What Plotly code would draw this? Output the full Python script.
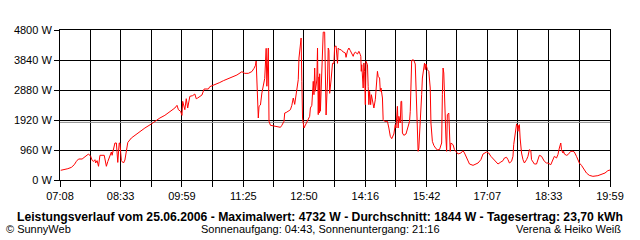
import plotly.graph_objects as go

# time of day in minutes since midnight, and power in W
t_min = [429, 435, 439, 444, 448, 451, 454, 459, 462, 465, 468, 471, 473, 475, 477, 478, 480, 482, 484, 490,
         491, 493, 495, 498, 500, 501, 503, 505, 507, 509, 511, 512, 514, 517, 519, 521, 522, 523, 528, 537,
         547, 556, 561, 568, 575, 582, 589, 592, 594, 597, 599, 600, 603, 605, 607, 610, 614, 617, 619, 621,
         627, 630, 636, 638, 643, 648, 652, 657, 666, 676, 683, 687, 692, 697, 700, 702, 703, 704, 705, 706,
         707, 709, 711, 713, 715, 717, 718, 720, 721, 723, 729, 733, 737, 739, 742, 743, 745, 749, 751, 753,
         755, 757, 759, 762, 763, 765, 766, 767, 768, 770, 772, 775, 778, 779, 781, 783, 784, 785, 786, 788,
         789, 790, 791, 791.5, 792, 793, 794, 796, 797, 799, 801, 803, 804, 805, 806, 808, 810, 812, 813, 815,
         817, 818, 820, 822, 825, 828, 829, 831, 833, 835, 837, 839, 840, 842, 845, 847, 849, 849.7, 850.3, 851,
         853, 854, 855, 856, 857, 859, 860, 861, 862, 863.5, 864.5, 867, 868, 870, 871, 873, 874, 876, 877, 878,
         880, 881, 883, 887, 889, 891, 893, 896, 898, 899, 901, 902, 903, 905, 906, 907, 908, 910, 913, 915,
         918, 919, 920, 921, 923, 924, 926, 927, 929, 930, 931, 933, 934, 935, 936, 937, 938, 939, 940, 941,
         943, 945, 947, 948, 950, 952, 955, 957, 960, 962, 963, 964, 965, 966, 967, 968, 969, 970, 971, 973,
         974, 975, 976, 979, 981, 983, 986, 990, 993, 995, 998, 1000, 1002, 1007, 1012, 1014, 1018, 1021, 1026, 1029,
         1032, 1035, 1040, 1042, 1046, 1049, 1051, 1054, 1056, 1058, 1061, 1063, 1064, 1066, 1068, 1069, 1070, 1071, 1072, 1073,
         1075, 1077, 1079, 1082, 1084, 1086, 1088, 1089, 1091, 1093, 1096, 1098, 1100, 1103, 1105, 1107, 1110, 1112, 1116, 1119,
         1121, 1124, 1126, 1128, 1130, 1131, 1133, 1134, 1135, 1138, 1140, 1142, 1144, 1147, 1149, 1152, 1154, 1156, 1159, 1163,
         1166, 1170, 1175, 1182, 1187, 1192, 1196, 1199]
power_w = [310, 330, 362, 405, 490, 598, 672, 672, 726, 790, 832, 758, 630, 595, 650, 544, 620, 438, 790, 790,
           620, 438, 590, 740, 896, 790, 1024, 1184, 1184, 563, 1184, 1184, 619, 544, 640, 896, 1077, 1200, 1344, 1504,
           1664, 1792, 1877, 1984, 2069, 2176, 2304, 2389, 2250, 2200, 2069, 2517, 2250, 2602, 2304, 2677, 2700, 2752, 2600, 2624,
           2720, 2912, 2912, 2987, 3029, 3072, 3120, 3178, 3253, 3360, 3466, 3413, 3413, 3470, 3573, 3669, 3808, 3200, 2347, 1984,
           2357, 2400, 2784, 3093, 3250, 4213, 3000, 4224, 1877, 1750, 1720, 1686, 1686, 1750, 1877, 2144, 2160, 2218, 2250, 2389,
           2624, 2420, 2730, 3210, 3904, 4544, 4544, 3157, 1984, 1664, 1750, 1930, 2037, 2304, 2389, 3157, 2730, 3584, 2840, 3200,
           4224, 2091, 3300, 2144, 3400, 2200, 2700, 3904, 4732, 4732, 2080, 3200, 4224, 4150, 2773, 3200, 3733, 3733, 4267, 4290,
           3733, 4224, 4171, 4171, 4096, 4064, 3925, 4139, 4224, 4139, 4064, 3957, 4032, 4096, 4032, 4117, 4011, 3957, 3477, 3690,
           2944, 3744, 3477, 2410, 3797, 3690, 2997, 2410, 2837, 2410, 2730, 2357, 2304, 2570, 2997, 3477, 3317, 3264, 2837, 2944,
           2624, 1930, 1877, 1877, 1664, 1397, 1323, 1472, 1771, 1664, 2357, 1664, 2037, 1824, 2517, 2517, 1504, 1429, 1472, 1664,
           1877, 2197, 3744, 3829, 3850, 3829, 3712, 2944, 1824, 917, 1024, 1717, 2037, 2730, 3264, 3477, 3690, 3744, 3530, 3712,
           3530, 3477, 2944, 1824, 1237, 1109, 1003, 971, 971, 1130, 1184, 2730, 3584, 3424, 2517, 1930, 1344, 917, 2091, 2144,
           1664, 917, 1184, 1130, 971, 917, 832, 864, 939, 864, 704, 619, 512, 469, 512, 544, 651, 832, 896, 864,
           758, 683, 544, 512, 576, 619, 704, 726, 651, 544, 598, 758, 1130, 1557, 1792, 1770, 1557, 1750, 1770, 1344,
           864, 651, 544, 651, 758, 971, 939, 651, 598, 512, 512, 651, 790, 758, 683, 598, 544, 544, 490, 651,
           758, 704, 810, 1024, 1184, 971, 864, 917, 832, 790, 810, 864, 917, 917, 896, 758, 651, 544, 469, 331,
           224, 149, 117, 139, 171, 224, 299, 320]

average_w = 1844
x_tick_labels = ["07:08", "08:33", "09:59", "11:25", "12:50", "14:16", "15:42", "17:07", "18:33", "19:59"]
y_tick_values = [0, 960, 1920, 2880, 3840, 4800]

title_text = ("Leistungsverlauf vom 25.06.2006 - Maximalwert: 4732 W - Durchschnitt: 1844 W"
              " - Tagesertrag: 23,70 kWh")
left_note = "© SunnyWeb"
mid_note = "Sonnenaufgang: 04:43, Sonnenuntergang: 21:16"
right_note = "Verena & Heiko Weiß"


def to_min(s):
    h, m = s.split(":")
    return int(h) * 60 + int(m)


label_mins = [to_min(s) for s in x_tick_labels]
tickvals, ticktext = [], []
for i, m in enumerate(label_mins):
    tickvals.append(m)
    ticktext.append(x_tick_labels[i])
    if i < len(label_mins) - 1:
        tickvals.append((m + label_mins[i + 1]) / 2)
        ticktext.append("")

FONT = "Liberation Sans, Arial, sans-serif"

fig = go.Figure()
fig.add_trace(go.Scatter(x=[label_mins[0], label_mins[-1]], y=[average_w, average_w],
                         mode="lines", line=dict(color="#8c8c8c", width=1), hoverinfo="skip"))
fig.add_trace(go.Scatter(x=t_min, y=power_w, mode="lines",
                         line=dict(color="#ff0000", width=1)))

fig.update_layout(
    width=640, height=240,
    margin=dict(l=60, r=30, t=30, b=60),
    paper_bgcolor="white", plot_bgcolor="white",
    showlegend=False,
    font=dict(family=FONT, size=11, color="black"),
)
fig.update_xaxes(
    range=[label_mins[0], label_mins[-1]],
    tickmode="array", tickvals=tickvals, ticktext=ticktext,
    showgrid=True, gridcolor="black", gridwidth=1,
    showline=True, linecolor="black", linewidth=1, mirror=True,
    ticks="outside", ticklen=6, tickcolor="black", tickwidth=1,
    zeroline=False, tickfont=dict(size=11),
)
fig.update_yaxes(
    range=[y_tick_values[0], y_tick_values[-1]],
    tickmode="array", tickvals=y_tick_values,
    ticktext=[f"{v} W" for v in y_tick_values],
    showgrid=True, gridcolor="black", gridwidth=1,
    showline=True, linecolor="black", linewidth=1, mirror=True,
    ticks="outside", ticklen=5, tickcolor="black", tickwidth=1,
    zeroline=False, tickfont=dict(size=11),
)

fig.add_annotation(text="<b>" + title_text + "</b>", xref="paper", yref="paper",
                   x=(320 - 60) / 550, y=(180 - 217) / 150, xanchor="center", yanchor="middle",
                   showarrow=False, font=dict(size=12.2, family=FONT))
fig.add_annotation(text=left_note, xref="paper", yref="paper",
                   x=(4 - 60) / 550, y=(180 - 229) / 150, xanchor="left", yanchor="middle",
                   showarrow=False, font=dict(size=11, family=FONT))
fig.add_annotation(text=mid_note, xref="paper", yref="paper",
                   x=(320 - 60) / 550, y=(180 - 229) / 150, xanchor="center", yanchor="middle",
                   showarrow=False, font=dict(size=11, family=FONT))
fig.add_annotation(text=right_note, xref="paper", yref="paper",
                   x=(623 - 60) / 550, y=(180 - 229) / 150, xanchor="right", yanchor="middle",
                   showarrow=False, font=dict(size=11, family=FONT))

fig.write_html("out.html")
